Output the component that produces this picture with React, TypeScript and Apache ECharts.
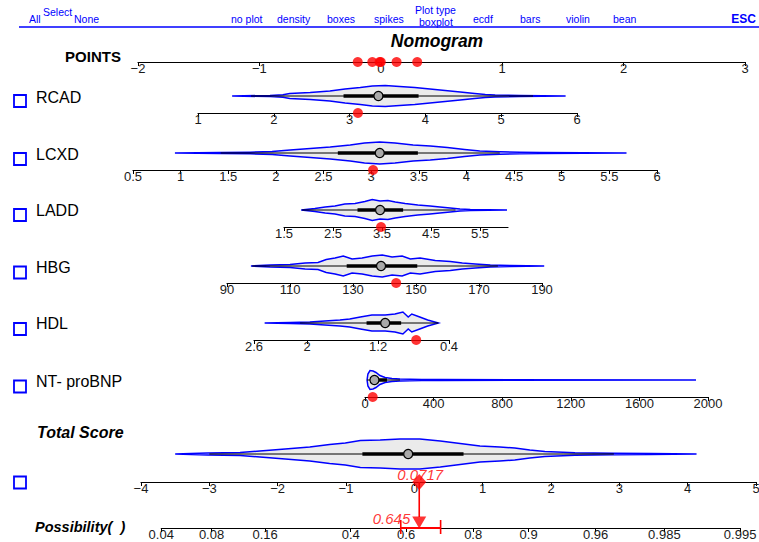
import React, { useEffect, useRef } from 'react';
import * as echarts from 'echarts';

const FONT = '"Liberation Sans", Arial, Helvetica, sans-serif';
const BLUE = '#0000ff';
const RED = '#ff0000';

// ---------------- data ----------------
const variableNames = ['RCAD', 'LCXD', 'LADD', 'HBG', 'HDL', 'NT- proBNP'];
const menuLabels = ['All', 'Select', 'None', 'no plot', 'density', 'boxes', 'spikes', 'Plot type', 'boxplot', 'ecdf', 'bars', 'violin', 'bean'];

const pointsRange = [-2, 3];
const pointsTicks = [-2, -1, 0, 1, 2, 3];
const pointsObserved = [-0.19, -0.07, -0.01, 0.0, 0.13, 0.3];

const rcadRange = [1, 6];
const rcadTicks = [1, 2, 3, 4, 5, 6];
const rcadGridX = [1.45, 1.95, 2.12, 2.21, 2.48, 2.74, 2.94, 3.14, 3.3, 3.47, 3.66, 3.86, 4.06, 4.26, 4.46, 4.65, 4.79, 4.92, 5.25, 5.85];
const rcadDensity = [0, 0.6, 1.2, 2.5, 3.5, 5, 7, 8.5, 10, 10.5, 9.5, 8.5, 7, 5.5, 4, 2.5, 1.5, 1, 0.6, 0];
const rcadBox = [1.7, 2.92, 3.38, 3.91, 5.42];
const rcadObserved = 3.11;

const lcxdRange = [0.5, 6];
const lcxdTicks = [0.5, 1, 1.5, 2, 2.5, 3, 3.5, 4, 4.5, 5, 5.5, 6];
const lcxdGridX = [0.94, 1.41, 1.73, 1.96, 2.15, 2.36, 2.57, 2.78, 2.93, 3.09, 3.25, 3.44, 3.62, 3.8, 3.98, 4.14, 4.35, 4.56, 4.77, 5.68];
const lcxdDensity = [0, 0.4, 0.8, 1.5, 3, 4.5, 6, 8, 10, 11, 10, 8, 7, 5.5, 3.5, 2, 1.2, 0.7, 0.4, 0];
const lcxdBox = [1.42, 2.65, 3.09, 3.49, 4.35];
const lcxdObserved = 3.02;

const laddRange = [1.5, 6.07];
const laddTicks = [1.5, 2.5, 3.5, 4.5, 5.5];
const laddGridX = [1.85, 2.13, 2.34, 2.54, 2.74, 2.95, 3.15, 3.3, 3.46, 3.62, 3.77, 3.97, 4.23, 4.48, 4.68, 4.89, 5.09, 5.3, 6.05];
const laddDensity = [0, 1.5, 3, 4, 6, 6.5, 8.5, 10.5, 9, 9.5, 8, 6.5, 5, 4, 3, 2, 1, 0.5, 0];
const laddBox = [1.87, 3.0, 3.46, 3.93, 5.0];
const laddObserved = 3.48;

const hbgRange = [90, 190];
const hbgTicks = [90, 110, 130, 150, 170, 190];
const hbgGridX = [97.6, 103.7, 110.0, 114.8, 118.9, 121.5, 124.3, 126.9, 129.7, 132.9, 136.1, 139.3, 142.4, 145.6, 148.2, 151.3, 156.1, 160.9, 164.7, 168.8, 173.6, 179.9, 190.7];
const hbgDensity = [0, 1, 1.5, 3, 3.5, 6.5, 8, 10, 7, 8, 10, 11, 9, 10, 7, 8, 5.5, 4.5, 3, 2, 1, 0.5, 0];
const hbgBox = [98, 128, 138.9, 150.4, 176];
const hbgObserved = 143.7;

const hdlRange = [0.4, 2.6];
const hdlTicks = [2.6, 2, 1.2, 0.4];
const hdlGridX = [2.48, 2.19, 1.97, 1.8, 1.63, 1.52, 1.4, 1.27, 1.12, 1.01, 0.92, 0.86, 0.82, 0.73, 0.64, 0.52];
const hdlDensity = [0, 0.5, 1, 2, 3, 4, 6, 8, 8, 9, 11, 6, 9, 6, 3, 0];
const hdlBox = [2.08, 1.33, 1.12, 0.94, 0.52];
const hdlObserved = 0.77;

const ntRange = [0, 2000];
const ntTicks = [0, 400, 800, 1200, 1600, 2000];
const ntGridX = [12, 17, 29, 47, 64, 87, 117, 157, 204, 262, 332, 437, 1930];
const ntDensity = [0, 6, 9.5, 9, 7.5, 4.5, 2.5, 1.5, 1, 0.8, 0.6, 0.4, 0];
const ntBox = [12, 30, 55, 128, 204];
const ntObserved = 45;

const totalRange = [-4, 5];
const totalTicks = [-4, -3, -2, -1, 0, 1, 2, 3, 4, 5];
const totalGridX = [-3.5, -3.03, -2.55, -2.26, -1.89, -1.53, -1.24, -1.01, -0.79, -0.5, -0.21, 0.08, 0.38, 0.67, 0.96, 1.25, 1.47, 1.69, 1.91, 2.35, 2.91, 3.45, 4.13];
const totalDensity = [0, 1, 1.5, 3, 5, 7, 9.5, 11, 13.5, 14, 15, 15, 13, 10.5, 8, 7, 6, 4, 2.5, 1.2, 0.8, 0.5, 0];
const totalBox = [-3.0, -0.76, -0.09, 0.72, 2.92];

const possibilityTicks = [0.04, 0.08, 0.16, 0.4, 0.6, 0.8, 0.9, 0.96, 0.985, 0.995];
const possibilityLabels = ['0.04', '0.08', '0.16', '0.4', '0.6', '0.8', '0.9', '0.96', '0.985', '0.995'];
const predScore = 0.0717;
const predProb = 0.645;
const predCI = [0.581, 0.713];

// ---------------- layout ----------------
// [axisLeft, axisRight, axisY, halfHeight]
const rowLayout = [
  [138, 745, 62, 8],
  [198, 577, 113, 17],
  [133, 657, 170, 17],
  [284, 508, 227, 17],
  [227, 542, 283, 17],
  [254, 449, 340, 17],
  [365, 708, 397, 17],
  [141, 756, 482, 28],
];
const labelYs = [97, 154, 210.5, 267.5, 323.5, 381];
const squareYs = [95, 153, 209, 266.5, 323, 380.5, 476.5];
const menuPos: [number, number][] = [
  [29, 19], [43, 11.5], [74, 19], [231, 18.5], [277, 18.5], [327, 19], [374, 18.5],
  [415, 10], [419, 21.5], [473, 19], [520, 19], [566, 18.5], [613, 19],
];

const logit = (p: number) => Math.log(p / (1 - p));
const fmtNum = (v: number) => (v < 0 ? '\u2212' + String(Math.abs(v)) : String(v));

function buildOption() {
  const vars = [
    { range: rcadRange, ticks: rcadTicks, gx: rcadGridX, dens: rcadDensity, box: rcadBox, obs: rcadObserved, inverse: false },
    { range: lcxdRange, ticks: lcxdTicks, gx: lcxdGridX, dens: lcxdDensity, box: lcxdBox, obs: lcxdObserved, inverse: false },
    { range: laddRange, ticks: laddTicks, gx: laddGridX, dens: laddDensity, box: laddBox, obs: laddObserved, inverse: false },
    { range: hbgRange, ticks: hbgTicks, gx: hbgGridX, dens: hbgDensity, box: hbgBox, obs: hbgObserved, inverse: false },
    { range: hdlRange, ticks: hdlTicks, gx: hdlGridX, dens: hdlDensity, box: hdlBox, obs: hdlObserved, inverse: true },
    { range: ntRange, ticks: ntTicks, gx: ntGridX, dens: ntDensity, box: ntBox, obs: ntObserved, inverse: false },
  ];
  const axesDefs = [
    { range: pointsRange, ticks: pointsTicks, inverse: false },
    ...vars.map((v) => ({ range: v.range, ticks: v.ticks, inverse: v.inverse })),
    { range: totalRange, ticks: totalTicks, inverse: false },
  ];

  const c = logit(predProb) - predScore;
  const possVals = possibilityTicks.map((p) => logit(p) - c);
  const pMin = possVals[0];
  const pMax = possVals[possVals.length - 1];
  const tl = rowLayout[7];
  const pxPerUnit = (tl[1] - tl[0]) / (totalRange[1] - totalRange[0]);
  const possLeft = tl[0] + (pMin - totalRange[0]) * pxPerUnit;
  const possWidth = (pMax - pMin) * pxPerUnit;
  const possAxisY = 528;
  const possH = possAxisY - tl[2];

  const grids: any[] = [];
  const xAxes: any[] = [];
  const yAxes: any[] = [];
  const axisCommon = (i: number) => ({
    gridIndex: i,
    type: 'value',
    position: 'bottom',
    splitLine: { show: false },
    axisLine: { show: true, onZero: false, lineStyle: { color: '#000', width: 1.2 } },
  });

  axesDefs.forEach((a, i) => {
    const [L, R, ay, hh] = rowLayout[i];
    grids.push({ left: L, top: ay - 2 * hh, width: R - L, height: 2 * hh, outerBoundsMode: 'none', containLabel: false });
    xAxes.push({
      ...axisCommon(i),
      min: a.range[0],
      max: a.range[1],
      inverse: a.inverse,
      axisTick: { show: true, customValues: a.ticks, length: 4, lineStyle: { color: '#000', width: 1 } },
      axisLabel: {
        show: true, customValues: a.ticks, margin: 0, fontSize: 13, fontFamily: FONT, color: '#1a1a1a',
        showMinLabel: true, showMaxLabel: true, formatter: (v: number) => fmtNum(v),
      },
    });
    yAxes.push({ gridIndex: i, type: 'value', min: -hh, max: hh, show: false });
  });

  // possibility axis
  grids.push({ left: possLeft, top: tl[2], width: possWidth, height: possH, outerBoundsMode: 'none', containLabel: false });
  xAxes.push({
    ...axisCommon(8),
    min: pMin,
    max: pMax,
    axisTick: { show: true, customValues: possVals, length: 4, lineStyle: { color: '#000', width: 1 } },
    axisLabel: {
      show: true, customValues: possVals, margin: 0, fontSize: 13, fontFamily: FONT, color: '#1a1a1a',
      showMinLabel: true, showMaxLabel: true,
      formatter: (v: number) => {
        let best = 0;
        possVals.forEach((pv, k) => { if (Math.abs(pv - v) < Math.abs(possVals[best] - v)) best = k; });
        return possibilityLabels[best];
      },
    },
  });
  yAxes.push({ gridIndex: 8, type: 'value', min: 0, max: possH, show: false });

  const series: any[] = [];
  const violin = (gi: number, gx: number[], dens: number[], box: number[]) => ({
    type: 'custom',
    coordinateSystem: 'cartesian2d',
    xAxisIndex: gi,
    yAxisIndex: gi,
    clip: false,
    silent: true,
    z: 3,
    data: [[box[2], 0]],
    renderItem: (_p: any, api: any) => {
      const top = gx.map((x, k) => api.coord([x, dens[k]]));
      const bot = gx.map((x, k) => api.coord([x, -dens[k]])).reverse();
      const cc = (v: number) => api.coord([v, 0]);
      const w0 = cc(box[0]), q1 = cc(box[1]), md = cc(box[2]), q3 = cc(box[3]), w1 = cc(box[4]);
      return {
        type: 'group',
        children: [
          { type: 'polygon', shape: { points: top.concat(bot) }, style: { fill: '#ebebeb', stroke: BLUE, lineWidth: 1.5 } },
          { type: 'line', shape: { x1: w0[0], y1: w0[1], x2: w1[0], y2: w1[1] }, style: { stroke: '#000', lineWidth: 1 } },
          { type: 'line', shape: { x1: q1[0], y1: q1[1], x2: q3[0], y2: q3[1] }, style: { stroke: '#000', lineWidth: 3.5 } },
          { type: 'circle', shape: { cx: md[0], cy: md[1], r: 4.5 }, style: { fill: '#a9a9a9', stroke: '#000', lineWidth: 1.2 } },
        ],
      };
    },
  });

  vars.forEach((v, k) => {
    const gi = k + 1;
    const hh = rowLayout[gi][3];
    series.push(violin(gi, v.gx, v.dens, v.box));
    series.push({
      type: 'scatter', xAxisIndex: gi, yAxisIndex: gi, silent: true, z: 5,
      symbol: 'circle', symbolSize: 10, itemStyle: { color: RED },
      data: [[v.obs, -hh]],
    });
  });
  series.push(violin(7, totalGridX, totalDensity, totalBox));

  // points dots
  series.push({
    type: 'scatter', xAxisIndex: 0, yAxisIndex: 0, silent: true, z: 5,
    symbol: 'circle', symbolSize: 10, itemStyle: { color: RED },
    data: pointsObserved.map((p) => [p, -rowLayout[0][3]]),
  });

  // prediction overlay on possibility grid
  const ciLo = logit(predCI[0]) - c;
  const ciHi = logit(predCI[1]) - c;
  series.push({
    type: 'custom', coordinateSystem: 'cartesian2d', xAxisIndex: 8, yAxisIndex: 8, clip: false, silent: true, z: 6,
    data: [[predScore, 0]],
    renderItem: (_p: any, api: any) => {
      const a = api.coord([predScore, possH]);
      const b = api.coord([predScore, 11]);
      const lo = api.coord([ciLo, 0]);
      const hi = api.coord([ciHi, 0]);
      const loT = api.coord([ciLo, 8]);
      const loB = api.coord([ciLo, -6]);
      const hiT = api.coord([ciHi, 8]);
      const hiB = api.coord([ciHi, -6]);
      const st = { stroke: RED, lineWidth: 1.6 };
      return {
        type: 'group',
        children: [
          { type: 'line', shape: { x1: a[0], y1: a[1], x2: b[0], y2: b[1] }, style: st },
          { type: 'line', shape: { x1: lo[0], y1: lo[1], x2: hi[0], y2: hi[1] }, style: { stroke: RED, lineWidth: 2 } },
          { type: 'line', shape: { x1: loT[0], y1: loT[1], x2: loB[0], y2: loB[1] }, style: st },
          { type: 'line', shape: { x1: hiT[0], y1: hiT[1], x2: hiB[0], y2: hiB[1] }, style: st },
        ],
      };
    },
  });
  series.push({
    type: 'scatter', xAxisIndex: 8, yAxisIndex: 8, silent: true, z: 7,
    symbol: 'triangle', symbolRotate: 180, symbolSize: [14, 12], itemStyle: { color: RED },
    data: [[predScore, 5.5]],
    label: {
      show: true, position: 'left', distance: 2, offset: [0, -4], formatter: String(predProb),
      color: RED, fontSize: 15, fontStyle: 'italic', fontFamily: FONT,
    },
  });
  series.push({
    type: 'scatter', xAxisIndex: 7, yAxisIndex: 7, silent: true, z: 7,
    symbol: 'diamond', symbolSize: [14, 16], itemStyle: { color: RED },
    data: [[predScore, -rowLayout[7][3]]],
    label: {
      show: true, position: 'inside', offset: [1, -8], formatter: String(predScore),
      color: RED, fontSize: 15, fontStyle: 'italic', fontFamily: FONT,
    },
  });

  const txt = (text: string, x: number, y: number, o: any = {}) => ({
    type: 'text', x, y, silent: true,
    style: {
      text, fill: o.fill || '#000', fontSize: o.size || 14, fontFamily: FONT,
      fontWeight: o.weight || 'normal', fontStyle: o.italic ? 'italic' : 'normal',
      lineHeight: o.lineHeight,
      align: o.align || 'left', textAlign: o.align || 'left',
      verticalAlign: 'middle', textVerticalAlign: 'middle',
    },
  });

  const graphics: any[] = [];
  menuLabels.forEach((m, k) => graphics.push(txt(m, menuPos[k][0], menuPos[k][1], { fill: BLUE, size: 10.5, lineHeight: 10 })));
  graphics.push(txt('ESC', 756, 19, { fill: BLUE, size: 12, weight: 'bold', align: 'right' }));
  graphics.push({ type: 'line', silent: true, shape: { x1: 19, y1: 27, x2: 759, y2: 27 }, style: { stroke: BLUE, lineWidth: 1.6 } });
  graphics.push(txt('Nomogram', 437, 41, { size: 17.5, weight: 'bold', italic: true, align: 'center' }));
  graphics.push(txt('POINTS', 93, 56, { size: 15, weight: 'bold', align: 'center' }));
  variableNames.forEach((n, k) => graphics.push(txt(n, 36, labelYs[k], { size: 16 })));
  graphics.push(txt('Total Score', 37, 432, { size: 16, weight: 'bold', italic: true }));
  graphics.push(txt('Possibility(  )', 35, 527, { size: 14.5, weight: 'bold', italic: true }));
  squareYs.forEach((sy) => graphics.push({
    type: 'rect', silent: true, shape: { x: 14, y: sy, width: 12, height: 12 },
    style: { fill: '#fff', stroke: BLUE, lineWidth: 1.8 },
  }));

  return {
    animation: false,
    backgroundColor: '#ffffff',
    grid: grids,
    xAxis: xAxes,
    yAxis: yAxes,
    series,
    graphic: graphics,
  };
}

export default function App() {
  const ref = useRef<HTMLDivElement>(null);
  useEffect(() => {
    if (!ref.current) return;
    const chart = echarts.init(ref.current, null, { renderer: 'svg' });
    chart.setOption(buildOption() as any);
    return () => chart.dispose();
  }, []);
  return <div ref={ref} style={{ position: 'absolute', left: 0, top: 0, width: 759, height: 542, background: '#fff' }} />;
}
